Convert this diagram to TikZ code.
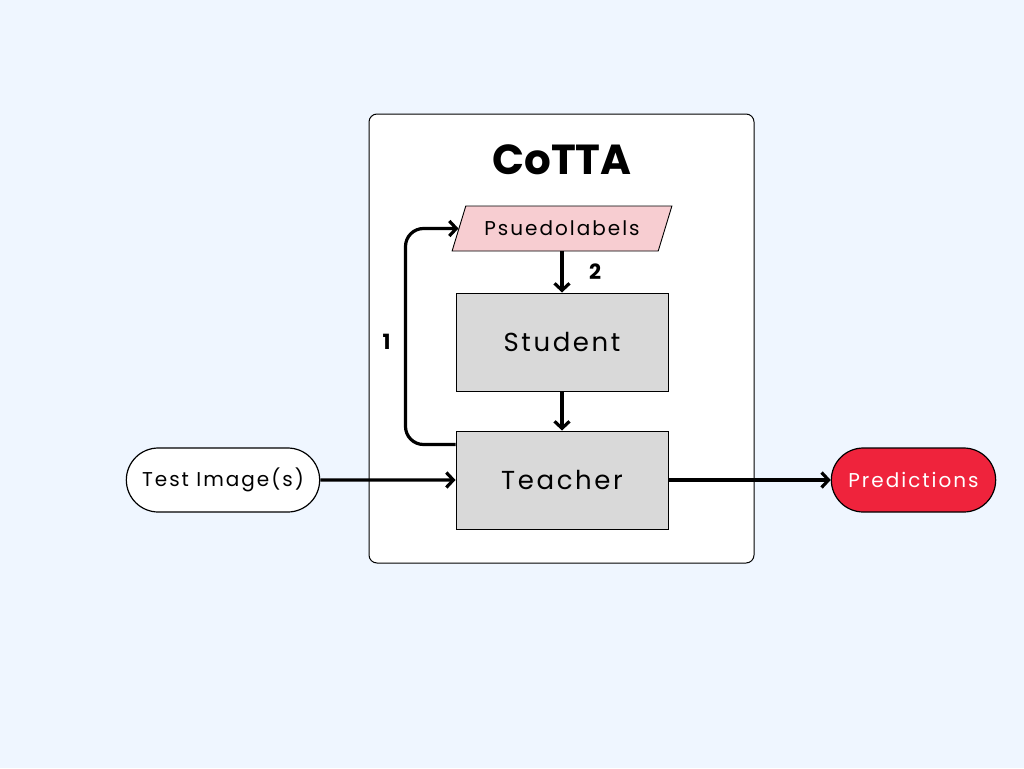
\documentclass[tikz,border=0pt]{standalone}
\usepackage{fontspec}
\setmainfont{Poppins}
\newfontfamily\spacedfont[LetterSpace=10]{Poppins}
\usetikzlibrary{arrows.meta,shapes.geometric,shapes.misc}
\definecolor{bgblue}{HTML}{EFF6FF}
\definecolor{pinkfill}{HTML}{F7CDD1}
\definecolor{boxgrey}{HTML}{D9D9D9}
\definecolor{predred}{HTML}{EF233C}
\begin{document}
\begin{tikzpicture}[x=1pt,y=-1pt,
  arr/.style={line width=3.2pt,-{Straight Barb[length=7pt,width=15pt]}},
  block/.style={draw,line width=1pt,fill=boxgrey,minimum width=212pt,minimum height=98pt,
    font=\spacedfont\fontsize{26}{30}\selectfont},
  pill/.style={rounded rectangle,draw,line width=1.2pt,minimum height=64pt,
    font=\spacedfont\fontsize{20}{24}\selectfont},
  stepnum/.style={font=\bfseries\fontsize{21}{24}\selectfont}]

  % background and the CoTTA frame
  \fill[bgblue] (0,0) rectangle (1024,768);
  \draw[fill=white,line width=1pt,rounded corners=8pt] (369,114) rectangle (754,563);

  \node[font=\bfseries\fontsize{42}{46}\selectfont] (title) at (562,160) {CoTTA};

  \node[trapezium,trapezium left angle=62,trapezium right angle=118,trapezium stretches=true,
    draw,line width=0.9pt,fill=pinkfill,minimum width=220pt,minimum height=45pt,
    font=\spacedfont\fontsize{20}{23}\selectfont] (pseudo) at (562,228.5) {Psuedolabels};

  \node[block] (stud) at (562,342) {Student};
  \node[block] (teach) at (562,480) {Teacher};

  \node[pill,fill=white,minimum width=200pt] (test) at (223,480) {Test Image(s)};
  \node[pill,fill=predred,text=white,minimum width=171pt] (pred) at (913.5,480) {Predictions};

  %\draw[gray,very thin] (0,0) grid[step=100] (1024,768);

  \draw[arr] (test) -- (teach);
  \draw[arr] (teach) -- (pred);
  \draw[arr] (pseudo) -- (stud) node[stepnum,midway,xshift=33pt] {2};
  \draw[arr] (stud) -- (teach);
  \draw[arr,rounded corners=18pt] ([yshift=-14pt]teach.north west) -- ++(-50,0) |- (pseudo.west)
    node[stepnum,pos=0.25,xshift=-19pt,yshift=-5pt] {1};

\end{tikzpicture}
\end{document}
